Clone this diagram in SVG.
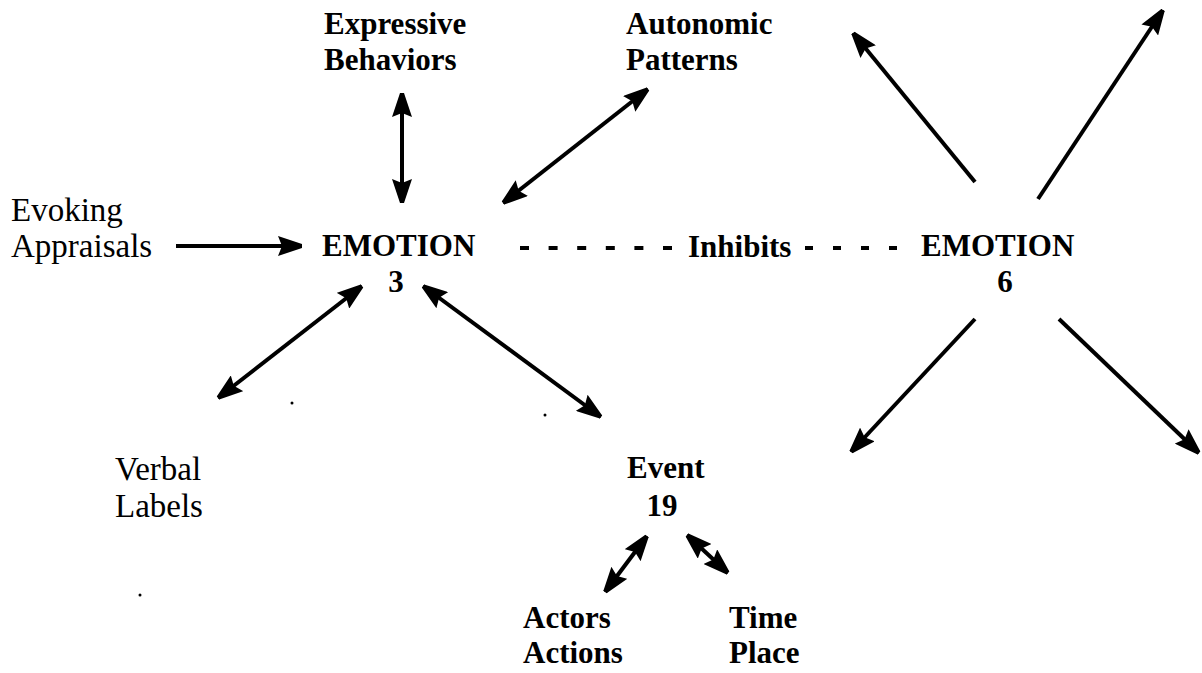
<svg xmlns="http://www.w3.org/2000/svg" width="1202" height="673" viewBox="0 0 1202 673">
<style>
text{font-family:"Liberation Serif","Times New Roman",serif;font-size:31px;fill:#000}
.b{font-weight:bold}
.r{font-size:33px}
.c{text-anchor:middle}
.conn line{stroke:#000;stroke-width:4;fill:none}
.conn line.dash{stroke-width:4}
</style>
<defs>
<marker id="ah" viewBox="0 0 24 20" refX="24" refY="10" markerWidth="24" markerHeight="20" markerUnits="userSpaceOnUse" orient="auto-start-reverse">
<path d="M0,0 L24,8 L24,12 L0,20 L4,10 z" fill="#000"/>
</marker>
</defs>
<rect width="1202" height="673" fill="#fff"/>
<g class="conn" id="connectors">
<line x1="176" y1="246" x2="302" y2="246" marker-end="url(#ah)"/>
<line x1="402" y1="93" x2="402" y2="203" marker-start="url(#ah)" marker-end="url(#ah)"/>
<line x1="503" y1="203" x2="648" y2="89" marker-start="url(#ah)" marker-end="url(#ah)"/>
<line x1="362" y1="286" x2="218" y2="398" marker-start="url(#ah)" marker-end="url(#ah)"/>
<line x1="423" y1="286" x2="601" y2="417" marker-start="url(#ah)" marker-end="url(#ah)"/>
<line x1="975" y1="182" x2="853" y2="33" marker-end="url(#ah)"/>
<line x1="1038" y1="199" x2="1163" y2="10" marker-end="url(#ah)"/>
<line x1="975" y1="319" x2="851" y2="452" marker-end="url(#ah)"/>
<line x1="1059" y1="319" x2="1199" y2="453" marker-end="url(#ah)"/>
<line x1="647" y1="536" x2="605" y2="592" marker-start="url(#ah)" marker-end="url(#ah)"/>
<line x1="687" y1="535" x2="728" y2="573" marker-start="url(#ah)" marker-end="url(#ah)"/>
<line class="dash" x1="520" y1="248" x2="672" y2="248" stroke-dasharray="9 19.6"/>
<line class="dash" x1="805" y1="248" x2="897" y2="248" stroke-dasharray="8 20"/>
</g>
<g id="inhibits"><text class="b" x="688" y="257">Inhibits</text></g>
<g id="expressive"><text class="b" x="324" y="34">Expressive</text><text class="b" x="324" y="70">Behaviors</text></g>
<g id="autonomic"><text class="b" x="626" y="34">Autonomic</text><text class="b" x="626" y="70">Patterns</text></g>
<g id="evoking"><text class="r" x="11" y="221">Evoking</text><text class="r" x="11" y="257">Appraisals</text></g>
<g id="emotion3"><text class="b" x="322" y="256">EMOTION</text><text class="b c" x="396" y="292">3</text></g>
<g id="emotion6"><text class="b" x="921" y="256">EMOTION</text><text class="b c" x="1005" y="292">6</text></g>
<g id="verbal"><text class="r" x="115" y="480">Verbal</text><text class="r" x="115" y="517">Labels</text></g>
<g id="event"><text class="b" x="627" y="478">Event</text><text class="b c" x="662" y="516">19</text></g>
<g id="actors"><text class="b" x="523" y="628">Actors</text><text class="b" x="523" y="663">Actions</text></g>
<g id="time"><text class="b" x="729" y="628">Time</text><text class="b" x="729" y="663">Place</text></g>
<g id="specks" fill="#000"><circle cx="292" cy="403" r="1.5"/><circle cx="545" cy="415" r="1.5"/><circle cx="140" cy="595" r="1.5"/></g>
</svg>
